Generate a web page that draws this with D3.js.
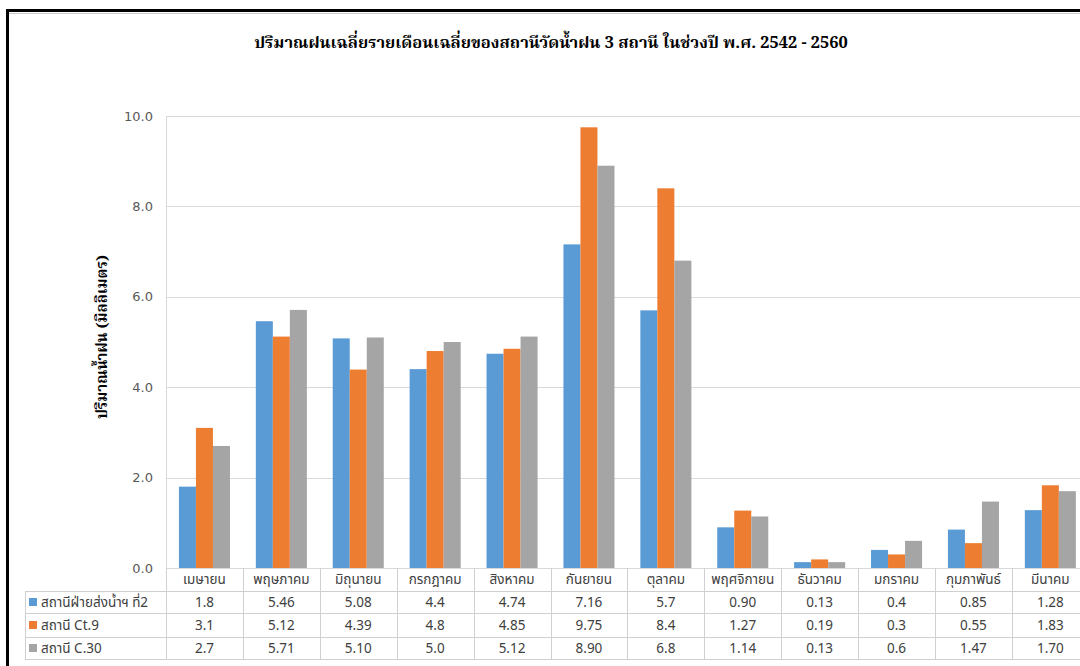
<!DOCTYPE html>
<html>
<head>
<meta charset="utf-8">
<script src="https://cdn.jsdelivr.net/npm/d3@7"></script>
<style>
  html, body { margin: 0; padding: 0; background: #fff; }
  svg { display: block; }
</style>
</head>
<body>
<svg id="chart" width="1080" height="666"></svg>
<script>
// Monthly average rainfall of three gauging stations, B.E. 2542 - 2560
const titleText = "ปริมาณฝนเฉลี่ยรายเดือนเฉลี่ยของสถานีวัดน้ำฝน 3 สถานี ในช่วงปี พ.ศ. 2542 - 2560";
const yAxisTitle = "ปริมาณน้ำฝน (มิลลิเมตร)";

const months = ["เมษายน", "พฤษภาคม", "มิถุนายน", "กรกฎาคม", "สิงหาคม", "กันยายน",
                "ตุลาคม", "พฤศจิกายน", "ธันวาคม", "มกราคม", "กุมภาพันธ์", "มีนาคม"];

const seriesNames = ["สถานีฝ่ายส่งน้ำฯ ที่2", "สถานี Ct.9", "สถานี C.30"];
const seriesColors = ["#5B9BD5", "#ED7D31", "#A5A5A5"];

// values as printed in the data table
const station2 = ["1.8", "5.46", "5.08", "4.4", "4.74", "7.16", "5.7", "0.90", "0.13", "0.4", "0.85", "1.28"];
const stationCt9 = ["3.1", "5.12", "4.39", "4.8", "4.85", "9.75", "8.4", "1.27", "0.19", "0.3", "0.55", "1.83"];
const stationC30 = ["2.7", "5.71", "5.10", "5.0", "5.12", "8.90", "6.8", "1.14", "0.13", "0.6", "1.47", "1.70"];

const yTicks = [0, 2, 4, 6, 8, 10];

const seriesText = [station2, stationCt9, stationC30];
const seriesValues = seriesText.map(s => s.map(Number));

const svg = d3.select("#chart");
const thaiSans = "Tahoma, 'Noto Sans Thai', 'Leelawadee UI', 'Noto Sans', sans-serif";
const thaiSerif = "'Noto Serif Thai', 'Times New Roman', 'Liberation Serif', serif";

// outer frame (top and left edges visible)
svg.append("rect").attr("x", 0).attr("y", 0).attr("width", 1080).attr("height", 666).attr("fill", "#fff");
svg.append("line").attr("x1", 6).attr("x2", 1080).attr("y1", 10.5).attr("y2", 10.5)
  .attr("stroke", "#000").attr("stroke-width", 3);
svg.append("line").attr("x1", 7.5).attr("x2", 7.5).attr("y1", 9).attr("y2", 666)
  .attr("stroke", "#000").attr("stroke-width", 3);
svg.append("line").attr("x1", 9).attr("x2", 1080).attr("y1", 13.5).attr("y2", 13.5)
  .attr("stroke", "#c8c8c8").attr("stroke-width", 1);

const plot = { left: 166, top: 116, bottom: 568, catWidth: 76.9 };
const plotRight = plot.left + plot.catWidth * months.length;

const x = d3.scaleBand().domain(months).range([plot.left, plotRight]).paddingInner(0).paddingOuter(0);
const x1 = d3.scaleBand().domain(d3.range(seriesNames.length)).range([0, x.bandwidth()])
  .paddingInner(0).paddingOuter(0.76);
const y = d3.scaleLinear().domain([0, 10]).range([plot.bottom, plot.top]);

// gridlines
svg.append("g").selectAll("line").data(yTicks.filter(d => d > 0)).join("line")
  .attr("x1", plot.left).attr("x2", 1080)
  .attr("y1", d => Math.round(y(d)) + 0.5).attr("y2", d => Math.round(y(d)) + 0.5)
  .attr("stroke", "#d9d9d9").attr("stroke-width", 1);

// value axis
const yAxis = d3.axisLeft(y).tickValues(yTicks).tickFormat(d3.format(".1f")).tickSize(0).tickPadding(13);
const yg = svg.append("g").attr("transform", `translate(${plot.left},0)`).call(yAxis);
yg.select(".domain").remove();
yg.selectAll("text").attr("fill", "#595959").style("font-family", "Tahoma, 'DejaVu Sans', sans-serif")
  .style("font-size", "13px");
svg.append("line").attr("x1", plot.left + 0.5).attr("x2", plot.left + 0.5)
  .attr("y1", plot.top).attr("y2", plot.bottom).attr("stroke", "#d9d9d9");

// bars
const groups = svg.append("g").selectAll("g").data(months).join("g")
  .attr("transform", d => `translate(${x(d)},0)`);
groups.selectAll("rect").data((m, i) => seriesValues.map((s, k) => ({ k, v: s[i] }))).join("rect")
  .attr("x", d => x1(d.k))
  .attr("width", x1.bandwidth())
  .attr("y", d => y(d.v))
  .attr("height", d => y(0) - y(d.v))
  .attr("fill", d => seriesColors[d.k]);

// data table
const table = svg.append("g");
const rowTop = [plot.bottom, 591, 613, 637, 659];
const labelLeft = 25;

// horizontal rules
table.append("line").attr("x1", plot.left).attr("x2", 1080)
  .attr("y1", plot.bottom + 0.5).attr("y2", plot.bottom + 0.5).attr("stroke", "#d9d9d9");
rowTop.slice(1).forEach(yy => {
  table.append("line").attr("x1", labelLeft).attr("x2", 1080)
    .attr("y1", yy + 0.5).attr("y2", yy + 0.5).attr("stroke", "#d0d0d0");
});
// vertical rules
table.append("line").attr("x1", labelLeft + 0.5).attr("x2", labelLeft + 0.5)
  .attr("y1", rowTop[1]).attr("y2", rowTop[4]).attr("stroke", "#d0d0d0");
months.forEach(m => {
  const xx = Math.round(x(m)) + 0.5;
  table.append("line").attr("x1", xx).attr("x2", xx)
    .attr("y1", plot.bottom).attr("y2", rowTop[4]).attr("stroke", "#d0d0d0");
});

// month headers
table.selectAll("text.cat").data(months).join("text").attr("class", "cat")
  .attr("x", d => x(d) + x.bandwidth() / 2)
  .attr("y", (rowTop[0] + rowTop[1]) / 2)
  .attr("dy", "0.36em").attr("text-anchor", "middle")
  .attr("fill", "#404040").style("font-family", thaiSans).style("font-size", "13.5px")
  .text(d => d);

// series rows
seriesNames.forEach((name, k) => {
  const cy = (rowTop[k + 1] + rowTop[k + 2]) / 2;
  table.append("rect").attr("x", 29).attr("y", cy - 4).attr("width", 8).attr("height", 8)
    .attr("fill", seriesColors[k]);
  table.append("text").attr("x", 41).attr("y", cy).attr("dy", "0.36em")
    .attr("fill", "#404040").style("font-family", thaiSans).style("font-size", "13.5px")
    .text(name);
  table.append("g").selectAll("text").data(seriesText[k]).join("text")
    .attr("x", (d, i) => x(months[i]) + x.bandwidth() / 2)
    .attr("y", cy).attr("dy", "0.36em").attr("text-anchor", "middle")
    .attr("fill", "#404040").style("font-family", thaiSans).style("font-size", "13.5px")
    .text(d => d);
});

// title
svg.append("text").attr("x", 551).attr("y", 48).attr("text-anchor", "middle")
  .attr("fill", "#000").style("font-family", thaiSerif).style("font-weight", "bold")
  .style("font-size", "16.5px").text(titleText);

// value axis title
svg.append("text").attr("transform", `translate(102,${(plot.top + plot.bottom) / 2 - 5}) rotate(-90)`)
  .attr("text-anchor", "middle").attr("dy", "0.35em")
  .attr("fill", "#000").style("font-family", thaiSerif).style("font-weight", "bold")
  .style("font-size", "15px").text(yAxisTitle);
</script>
</body>
</html>
